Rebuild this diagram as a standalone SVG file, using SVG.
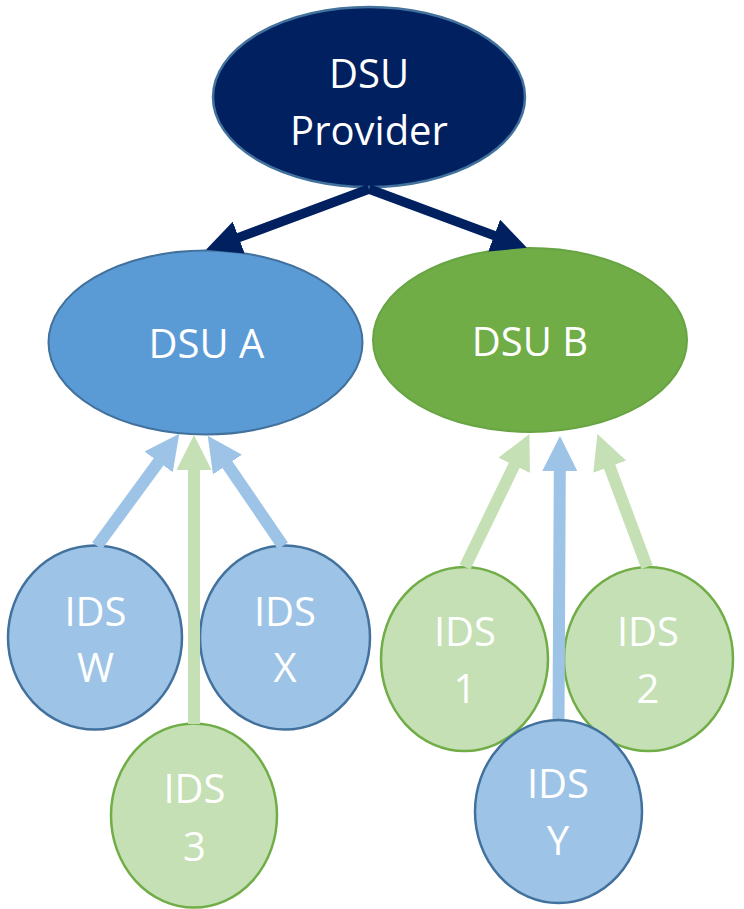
<svg xmlns="http://www.w3.org/2000/svg" width="744" height="909" viewBox="0 0 744 909">
  <style>
    .lbl { font-family: "Open Sans", "Liberation Sans", sans-serif; font-size: 40px; fill: #FFFFFF; text-anchor: middle; }
    .provider { fill: #002060; stroke: #41719C; stroke-width: 2.5; }
    .dsu-a { fill: #5B9BD5; stroke: #41719C; stroke-width: 2; }
    .dsu-b { fill: #70AD47; stroke: #68A443; stroke-width: 2; }
    .ids-blue { fill: #9DC3E6; stroke: #41719C; stroke-width: 2.5; }
    .ids-green { fill: #C5E0B4; stroke: #70AD47; stroke-width: 2.5; }
    .c-dark { stroke: #002060; stroke-width: 9.5; fill: none; }
    .c-blue { stroke: #9DC3E6; stroke-width: 12; fill: none; }
    .c-green { stroke: #C5E0B4; stroke-width: 12; fill: none; }
  </style>
  <defs>
    <marker id="head-dark" markerUnits="userSpaceOnUse" viewBox="0 0 35 34" markerWidth="35" markerHeight="34" refX="1" refY="17" orient="auto">
      <path d="M0,0 L35,17 L0,34 z" fill="#002060"/>
    </marker>
    <marker id="head-blue" markerUnits="userSpaceOnUse" viewBox="0 0 35 35" markerWidth="35" markerHeight="35" refX="1" refY="17.5" orient="auto">
      <path d="M0,0 L35,17.5 L0,35 z" fill="#9DC3E6"/>
    </marker>
    <marker id="head-green" markerUnits="userSpaceOnUse" viewBox="0 0 35 35" markerWidth="35" markerHeight="35" refX="1" refY="17.5" orient="auto">
      <path d="M0,0 L35,17.5 L0,35 z" fill="#C5E0B4"/>
    </marker>
  </defs>

  <!-- nodes -->
  <g id="dsu-provider">
    <ellipse class="provider" cx="369" cy="97" rx="156" ry="90"/>
    <text class="lbl" x="369" y="88">DSU</text>
    <text class="lbl" x="369" y="145">Provider</text>
  </g>
  <g id="dsu-a">
    <ellipse class="dsu-a" cx="205.5" cy="342.5" rx="157" ry="92"/>
    <text class="lbl" x="206.5" y="358">DSU A</text>
  </g>
  <g id="dsu-b">
    <ellipse class="dsu-b" cx="530" cy="340" rx="157" ry="92"/>
    <text class="lbl" x="530" y="356">DSU B</text>
  </g>
  <g id="ids-w">
    <ellipse class="ids-blue" cx="95" cy="637.5" rx="87" ry="92"/>
    <text class="lbl" x="95.5" y="626">IDS</text>
    <text class="lbl" x="95.5" y="682">W</text>
  </g>
  <g id="ids-x">
    <ellipse class="ids-blue" cx="285" cy="637.5" rx="85" ry="92"/>
    <text class="lbl" x="285" y="626">IDS</text>
    <text class="lbl" x="285" y="682">X</text>
  </g>
  <g id="ids-3">
    <ellipse class="ids-green" cx="194" cy="815.5" rx="83" ry="92"/>
    <text class="lbl" x="194.5" y="803">IDS</text>
    <text class="lbl" x="194.5" y="861">3</text>
  </g>
  <g id="ids-1">
    <ellipse class="ids-green" cx="464.5" cy="659" rx="83.5" ry="92"/>
    <text class="lbl" x="465" y="646">IDS</text>
    <text class="lbl" x="465" y="703">1</text>
  </g>
  <g id="ids-2">
    <ellipse class="ids-green" cx="648.5" cy="659" rx="84.5" ry="92"/>
    <text class="lbl" x="648" y="646">IDS</text>
    <text class="lbl" x="648" y="703">2</text>
  </g>

  <!-- connectors -->
  <g id="connectors">
    <line class="c-dark" x1="369" y1="189" x2="237.8" y2="237.9" marker-end="url(#head-dark)"/>
    <line class="c-dark" x1="369" y1="189" x2="495.1" y2="235.9" marker-end="url(#head-dark)"/>
    <line class="c-blue" x1="97" y1="546" x2="159.2" y2="461.1" marker-end="url(#head-blue)"/>
    <line class="c-green" x1="194" y1="724" x2="194" y2="469" marker-end="url(#head-green)"/>
    <line class="c-blue" x1="283" y1="546" x2="226.9" y2="463.8" marker-end="url(#head-blue)"/>
    <line class="c-green" x1="465" y1="567" x2="514.6" y2="464.5" marker-end="url(#head-green)"/>
    <line class="c-blue" x1="558.5" y1="721" x2="559.8" y2="470" marker-end="url(#head-blue)"/>
    <line class="c-green" x1="647" y1="567" x2="609.3" y2="465.8" marker-end="url(#head-green)"/>
  </g>

  <g id="ids-y">
    <ellipse class="ids-blue" cx="558.5" cy="811.5" rx="83.5" ry="91.5"/>
    <text class="lbl" x="558" y="798">IDS</text>
    <text class="lbl" x="558" y="855">Y</text>
  </g>
</svg>
